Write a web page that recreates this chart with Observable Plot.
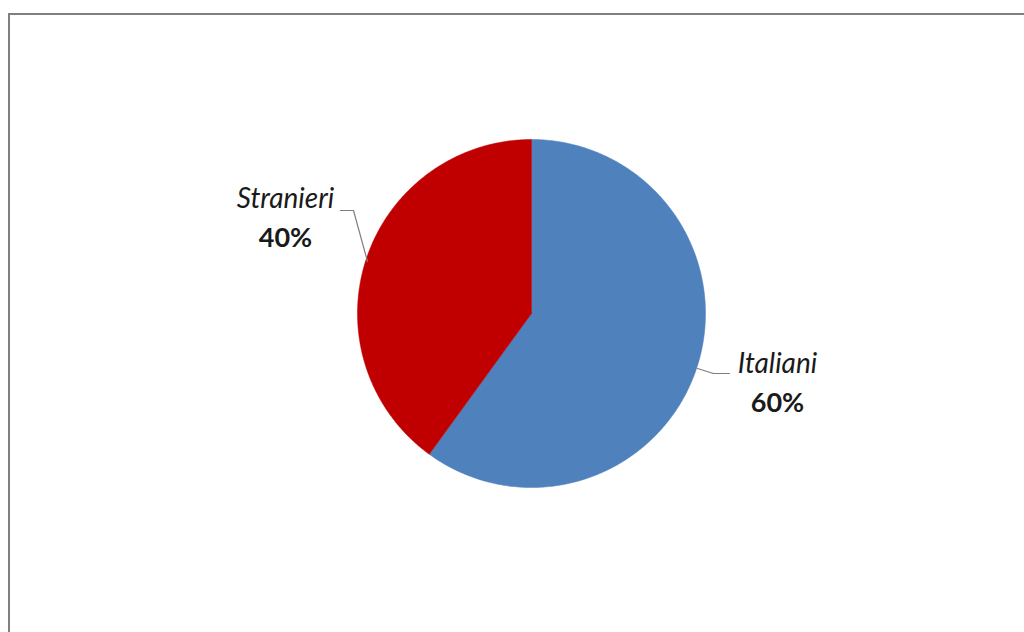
<!DOCTYPE html>
<html>
<head>
<meta charset="utf-8">
<script src="https://cdn.jsdelivr.net/npm/d3@7"></script>
<script src="https://cdn.jsdelivr.net/npm/@observablehq/plot@0.6"></script>
<style>
  html, body { margin: 0; padding: 0; background: #fff; }
  #wrap { position: relative; width: 1024px; height: 632px; overflow: hidden; }
  #frame { position: absolute; left: 8px; top: 13px; width: 1100px; height: 700px;
           border-top: 2px solid #7f7f7f; border-left: 2px solid #7f7f7f; box-sizing: border-box; }
  #chart { position: absolute; left: 0; top: 0; }
</style>
</head>
<body>
<div id="wrap"><div id="frame"></div><div id="chart"></div></div>
<script>
// Data
const categories = ["Italiani", "Stranieri"];
const values = [60, 40];
const percentLabels = ["60%", "40%"];
const colors = ["#4F81BD", "#C00000"];

// Layout (pixel space)
const W = 1024, H = 632;
const cx = 531, cy = 313, R = 174;

// Slices starting at 12 o'clock, clockwise
const total = d3.sum(values);
let acc = 0;
const slices = categories.map((c, i) => {
  const a0 = acc / total * 2 * Math.PI;
  acc += values[i];
  const a1 = acc / total * 2 * Math.PI;
  return {name: c, a0, a1, color: colors[i]};
});

const pts = [];
for (const s of slices) {
  pts.push({name: s.name, color: s.color, x: cx, y: cy});
  const n = 300;
  for (let k = 0; k <= n; k++) {
    const a = s.a0 + (s.a1 - s.a0) * k / n;
    pts.push({name: s.name, color: s.color, x: cx + R * Math.sin(a), y: cy - R * Math.cos(a)});
  }
  pts.push({name: s.name, color: s.color, x: cx, y: cy});
}

// Label placement
const labelPos = {
  "Italiani": {x: 777, y1: 364, y2: 403, leader: [[697, 368], [713, 373], [729, 373]]},
  "Stranieri": {x: 285, y1: 199, y2: 238, leader: [[340, 210], [353, 210], [367, 261]]}
};
const nameLabels = categories.map(c => ({text: c, x: labelPos[c].x, y: labelPos[c].y1}));
const pctLabels = categories.map((c, i) => ({text: percentLabels[i], x: labelPos[c].x, y: labelPos[c].y2}));
const leaders = categories.flatMap(c => labelPos[c].leader.map(([x, y]) => ({name: c, x, y})));

const plot = Plot.plot({
  width: W, height: H,
  margin: 0,
  x: {domain: [0, W], range: [0, W], axis: null},
  y: {domain: [0, H], range: [0, H], axis: null},
  style: {background: "transparent", overflow: "visible"},
  marks: [
    Plot.line(pts, {x: "x", y: "y", z: "name", fill: "color", stroke: "color", strokeWidth: 0.5, curve: "linear"}),
    Plot.line(leaders, {x: "x", y: "y", z: "name", stroke: "#7f7f7f", strokeWidth: 1.2}),
    Plot.text(nameLabels, {x: "x", y: "y", text: "text", fontSize: 28, fontStyle: "italic", fontFamily: "Lato, 'DejaVu Sans', sans-serif", fill: "#1a1a1a"}),
    Plot.text(pctLabels, {x: "x", y: "y", text: "text", fontSize: 27, fontWeight: "bold", fontFamily: "Lato, 'DejaVu Sans', sans-serif", fill: "#1a1a1a"})
  ]
});
document.getElementById("chart").appendChild(plot);
</script>
</body>
</html>
